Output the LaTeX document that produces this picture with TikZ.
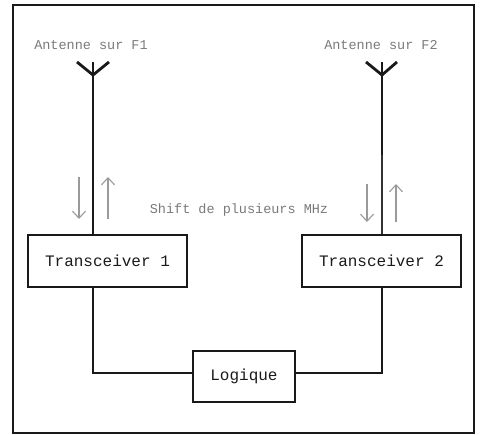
\documentclass[tikz,border=0pt]{standalone}
\usepackage{fontspec}
\setmonofont{Liberation Mono}
\usetikzlibrary{arrows.meta}
\definecolor{lbl}{HTML}{7A7A7A}
\definecolor{boxtxt}{HTML}{1A1A1A}
\definecolor{arr}{HTML}{9A9A9A}
\tikzset{
  frame/.style={line width=2.6pt, draw=black!90},
  wire/.style={line width=2.8pt, draw=black!90},
  thinwire/.style={line width=1.5pt, draw=black!80},
  box/.style={draw=black!90, line width=2.8pt, minimum width=159pt, minimum height=52pt, inner sep=0pt,
    font=\ttfamily\fontsize{16}{18}\selectfont, text=boxtxt},
  lbltext/.style={font=\ttfamily\fontsize{13.5}{15}\selectfont, text=lbl, inner sep=0pt},
  sig/.style={draw=arr, line width=1.1pt, -{Straight Barb[length=7pt,width=13pt,line width=1.1pt]}},
}
\begin{document}
\begin{tikzpicture}[x=1pt,y=-1pt]
\useasboundingbox (0,0) rectangle (481,435);
\draw[frame] (13,5) rectangle (474,433);

% labels
\node[lbltext] (lab1) at (91,45) {Antenne sur F1};
\node[lbltext] (lab2) at (381,45) {Antenne sur F2};
\node[lbltext] (shift) at (239,210) {Shift de plusieurs MHz};

% boxes
\node[box] (t1) at (107.5,261) {Transceiver 1};
\node[box] (t2) at (381.5,261) {Transceiver 2};
\node[box, minimum width=102pt, minimum height=51pt] (lg) at (244,376.5) {Logique};

% antenna 1
\coordinate (a1top) at (93,62);
\coordinate (a1j) at (93,75);
\coordinate (a1l) at (77,62);
\coordinate (a1r) at (109,62);
\draw[wire] (a1l) -- (a1j) -- (a1r);
\draw[wire] (a1top) -- (a1top |- t1.north);

% antenna 2
\coordinate (a2top) at (382,62);
\coordinate (a2j) at (382,75);
\coordinate (a2l) at (366,62);
\coordinate (a2r) at (397,62);
\coordinate (a2mid) at (382,155);
\draw[wire] (a2l) -- (a2j) -- (a2r);
\draw[wire] (a2top) -- (a2mid);
\draw[thinwire] (a2mid) -- (a2mid |- t2.north);

% links to logique
\coordinate (lgw) at ([yshift=3.5pt]lg.west);
\coordinate (lge) at ([yshift=3.5pt]lg.east);
\draw[wire] (a1top |- t1.south) |- (lgw);
\draw[wire] (a2top |- t2.south) |- (lge);

% signal arrows
\coordinate (d1s) at (79,177);
\coordinate (d1e) at (79,219);
\coordinate (u1s) at (108,219);
\coordinate (u1e) at (108,177);
\coordinate (d2s) at (367,184);
\coordinate (d2e) at (367,222);
\coordinate (u2s) at (396,222);
\coordinate (u2e) at (396,184);
\draw[sig] (d1s) -- (d1e);
\draw[sig] (u1s) -- (u1e);
\draw[sig] (d2s) -- (d2e);
\draw[sig] (u2s) -- (u2e);
\end{tikzpicture}
\end{document}
